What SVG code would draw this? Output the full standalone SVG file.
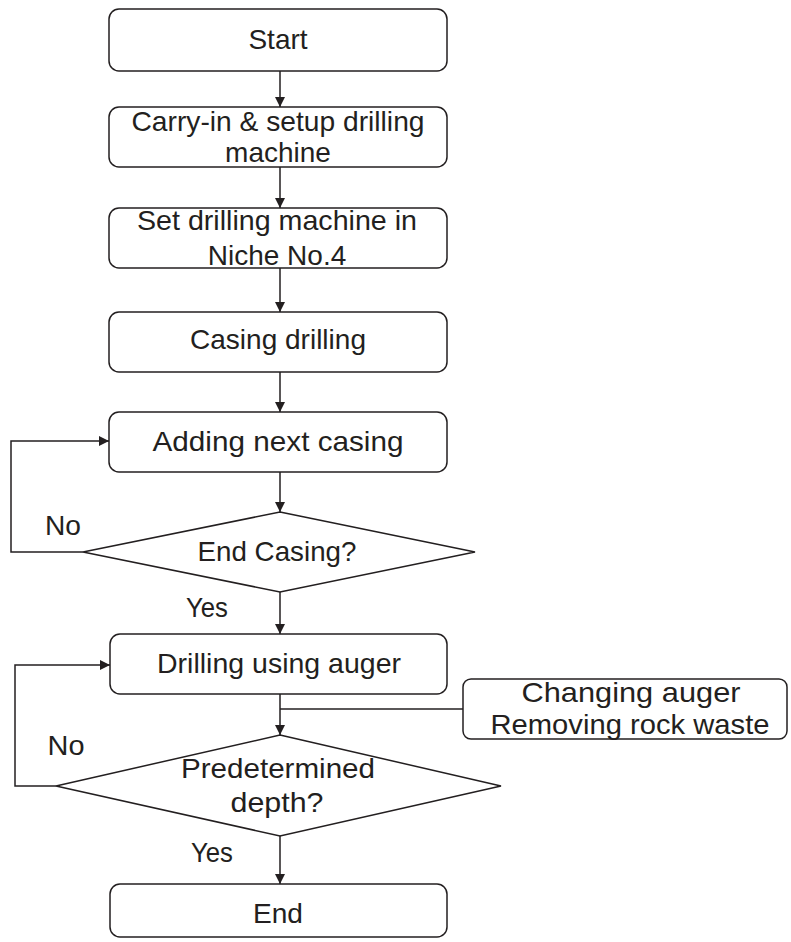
<svg xmlns="http://www.w3.org/2000/svg" width="791" height="942" viewBox="0 0 791 942">
<style>
.box{fill:#fff;stroke:#231f20;stroke-width:1.5}
.ln{fill:none;stroke:#231f20;stroke-width:1.5}
text{font-family:"Liberation Sans",Arial,sans-serif;font-size:28px;fill:#231f20;text-anchor:middle}
</style>
<defs>
<marker id="ah" viewBox="0 0 10 10" refX="10" refY="5" markerWidth="10" markerHeight="10" markerUnits="userSpaceOnUse" orient="auto">
<path d="M0,0 L10,5 L0,10 Z" fill="#231f20"/>
</marker>
</defs>
<rect width="791" height="942" fill="#fff"/>
<g id="connectors">
<path class="ln" d="M280,71 V107" marker-end="url(#ah)"/>
<path class="ln" d="M280,167 V208" marker-end="url(#ah)"/>
<path class="ln" d="M280,268 V312" marker-end="url(#ah)"/>
<path class="ln" d="M280,372 V412" marker-end="url(#ah)"/>
<path class="ln" d="M280,472 V512" marker-end="url(#ah)"/>
<path class="ln" d="M280,592 V634" marker-end="url(#ah)"/>
<path class="ln" d="M83,552 H11 V441 H109" marker-end="url(#ah)"/>
<path class="ln" d="M280,694 V735" marker-end="url(#ah)"/>
<path class="ln" d="M463,709 H280"/>
<path class="ln" d="M56,786 H15 V665 H110" marker-end="url(#ah)"/>
<path class="ln" d="M280,836 V884" marker-end="url(#ah)"/>
<text x="63" y="535" textLength="36" lengthAdjust="spacingAndGlyphs">No</text>
<text x="207" y="617" textLength="42" lengthAdjust="spacingAndGlyphs">Yes</text>
<text x="66" y="755" textLength="37" lengthAdjust="spacingAndGlyphs">No</text>
<text x="212" y="862" textLength="42" lengthAdjust="spacingAndGlyphs">Yes</text>
</g>
<g id="start">
<rect class="box" x="109" y="9" width="338" height="62" rx="10"/>
<text x="278" y="49">Start</text>
</g>
<g id="carry">
<rect class="box" x="109" y="107" width="338" height="60" rx="10"/>
<text x="278" y="131" textLength="293" lengthAdjust="spacingAndGlyphs">Carry-in &amp; setup drilling</text>
<text x="278" y="162">machine</text>
</g>
<g id="setniche">
<rect class="box" x="109" y="208" width="338" height="60" rx="10"/>
<text x="277" y="230" textLength="280" lengthAdjust="spacingAndGlyphs">Set drilling machine in</text>
<text x="277" y="265">Niche No.4</text>
</g>
<g id="casing">
<rect class="box" x="109" y="312" width="338" height="60" rx="10"/>
<text x="278" y="349" textLength="176" lengthAdjust="spacingAndGlyphs">Casing drilling</text>
</g>
<g id="adding">
<rect class="box" x="109" y="412" width="338" height="60" rx="10"/>
<text x="278" y="451" textLength="251" lengthAdjust="spacingAndGlyphs">Adding next casing</text>
</g>
<g id="endcasing">
<polygon class="box" points="280,512 475,552 280,592 83,552"/>
<text x="277" y="561" textLength="159" lengthAdjust="spacingAndGlyphs">End Casing?</text>
</g>
<g id="drilling">
<rect class="box" x="110" y="634" width="337" height="60" rx="10"/>
<text x="279" y="673" textLength="244" lengthAdjust="spacingAndGlyphs">Drilling using auger</text>
</g>
<g id="changing">
<rect class="box" x="463" y="679" width="324" height="60" rx="8"/>
<text x="631" y="702" textLength="219" lengthAdjust="spacingAndGlyphs">Changing auger</text>
<text x="630" y="734" textLength="279" lengthAdjust="spacingAndGlyphs">Removing rock waste</text>
</g>
<g id="depth">
<polygon class="box" points="280,735 501,786 280,836 56,786"/>
<text x="278" y="778" textLength="194" lengthAdjust="spacingAndGlyphs">Predetermined</text>
<text x="277" y="812" textLength="93" lengthAdjust="spacingAndGlyphs">depth?</text>
</g>
<g id="end">
<rect class="box" x="110" y="884" width="337" height="53" rx="10"/>
<text x="278" y="923" textLength="50" lengthAdjust="spacingAndGlyphs">End</text>
</g>
</svg>
